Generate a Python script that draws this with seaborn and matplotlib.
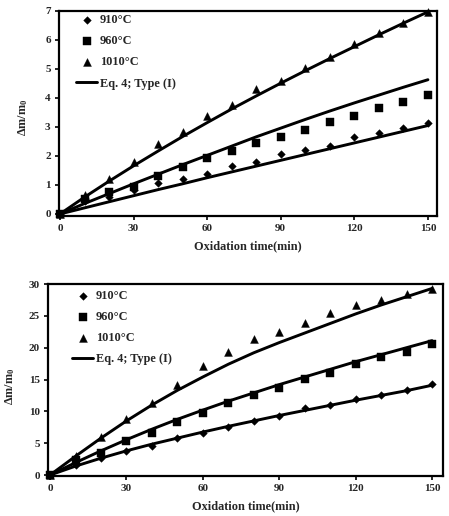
import matplotlib
matplotlib.use("Agg")
import matplotlib.pyplot as plt
import seaborn as sns
import pandas as pd

# ---------------- data ----------------
time_min = [0, 10, 20, 30, 40, 50, 60, 70, 80, 90, 100, 110, 120, 130, 140, 150]
series_labels = ["910°C", "960°C", "1010°C"]
fit_label = "Eq. 4; Type (I)"
x_ticks = [0, 30, 60, 90, 120, 150]
top_y_ticks = [0, 1, 2, 3, 4, 5, 6, 7]
bot_y_ticks = [0, 5, 10, 15, 20, 25, 30]

# top panel: measured
top_910 = [0, 0.45, 0.60, 0.84, 1.08, 1.22, 1.38, 1.64, 1.78, 2.06, 2.22, 2.36, 2.64, 2.78, 2.96, 3.13]
top_960 = [0, 0.50, 0.76, 0.94, 1.32, 1.62, 1.94, 2.17, 2.45, 2.65, 2.88, 3.18, 3.39, 3.65, 3.85, 4.10]
top_1010 = [0, 0.66, 1.19, 1.80, 2.42, 2.84, 3.38, 3.77, 4.31, 4.60, 5.05, 5.42, 5.85, 6.24, 6.60, 6.95]
# top panel: Eq. 4 fit
top_fit_910 = [0, 0.21, 0.42, 0.63, 0.84, 1.04, 1.25, 1.45, 1.65, 1.85, 2.05, 2.25, 2.45, 2.65, 2.85, 3.05]
top_fit_960 = [0, 0.36, 0.70, 1.04, 1.37, 1.70, 2.02, 2.34, 2.66, 2.96, 3.26, 3.55, 3.83, 4.10, 4.37, 4.63]
top_fit_1010 = [0, 0.58, 1.13, 1.66, 2.17, 2.67, 3.15, 3.62, 4.07, 4.51, 4.94, 5.36, 5.77, 6.18, 6.58, 6.97]

# bottom panel: measured
bot_910 = [0, 1.5, 2.6, 3.7, 4.6, 5.85, 6.65, 7.5, 8.45, 9.35, 10.45, 10.95, 11.95, 12.6, 13.3, 14.3]
bot_960 = [0, 2.4, 3.4, 5.3, 6.65, 8.4, 9.8, 11.35, 12.6, 13.6, 15.05, 16.1, 17.4, 18.5, 19.25, 20.6]
bot_1010 = [0, 3.0, 5.9, 8.8, 11.3, 14.1, 17.1, 19.4, 21.3, 22.5, 23.8, 25.4, 26.7, 27.5, 28.4, 29.2]
# bottom panel: Eq. 4 fit
bot_fit_910 = [0, 1.4, 2.65, 3.8, 4.85, 5.8, 6.75, 7.65, 8.5, 9.35, 10.15, 10.95, 11.75, 12.5, 13.25, 14.1]
bot_fit_960 = [0, 1.95, 3.8, 5.55, 7.2, 8.75, 10.2, 11.6, 12.9, 14.2, 15.4, 16.6, 17.8, 18.9, 20.0, 21.1]
bot_fit_1010 = [0, 2.95, 5.8, 8.5, 11.0, 13.3, 15.4, 17.4, 19.2, 20.8, 22.3, 23.8, 25.3, 26.7, 28.0, 29.3]

# ---------------- style ----------------
sns.set_style("white")
plt.rcParams["font.family"] = ["Liberation Serif", "DejaVu Serif"]
plt.rcParams["font.weight"] = "bold"
plt.rcParams["mathtext.fontset"] = "custom"
plt.rcParams["mathtext.rm"] = "Liberation Serif:bold"
plt.rcParams["mathtext.it"] = "Liberation Serif:bold"
plt.rcParams["mathtext.bf"] = "Liberation Serif:bold"

W, H = 449, 516
fig = plt.figure(figsize=(W / 100, H / 100), dpi=100)
fig.patch.set_facecolor("white")


def px_axes(l, t, r, b):
    return fig.add_axes([l / W, 1 - b / H, (r - l) / W, (b - t) / H])


markers = {"910°C": ("D", 15), "960°C": ("s", 30), "1010°C": ("^", 32)}


def draw_panel(ax, meas, fits, xlim, ylim, yticks, leg_anchor):
    meas_df = pd.DataFrame({"t": time_min * 3,
                            "v": meas[0] + meas[1] + meas[2],
                            "s": sum([[lab] * len(time_min) for lab in series_labels], [])})
    fit_df = pd.DataFrame({"t": time_min * 3,
                           "v": fits[0] + fits[1] + fits[2],
                           "s": sum([[lab] * len(time_min) for lab in series_labels], [])})
    for i, lab in enumerate(series_labels):
        sub = fit_df[fit_df["s"] == lab]
        sns.lineplot(data=sub, x="t", y="v", ax=ax, color="black", lw=2.1,
                     label=fit_label if i == 0 else None, zorder=2)
    for lab in series_labels:
        sub = meas_df[meas_df["s"] == lab]
        m, s = markers[lab]
        sns.scatterplot(data=sub, x="t", y="v", ax=ax, marker=m, s=s,
                        color="black", edgecolor="black", linewidth=0.3,
                        label=lab, zorder=3, clip_on=False)
    ax.set_xlim(*xlim)
    ax.set_ylim(*ylim)
    ax.set_xticks(x_ticks)
    ax.set_yticks(yticks)
    for sp in ax.spines.values():
        sp.set_visible(True)
        sp.set_color("black")
        sp.set_linewidth(1.6)
    ax.tick_params(axis="both", direction="out", length=3, width=1.2,
                   color="black", labelsize=8, pad=3,
                   bottom=True, left=True)
    for lbl in ax.get_xticklabels() + ax.get_yticklabels():
        lbl.set_fontweight("bold")
    ax.set_xlabel("Oxidation time(min)", fontsize=8.8, fontweight="bold", labelpad=5)
    ax.set_ylabel(r"$\Delta\mathrm{m/m_0}$", fontsize=8.8, labelpad=6)
    handles, labels = ax.get_legend_handles_labels()
    order = [labels.index(l) for l in series_labels + [fit_label]]
    ax.legend([handles[k] for k in order], [labels[k] for k in order],
              loc="upper left", bbox_to_anchor=leg_anchor, frameon=False,
              borderpad=0, borderaxespad=0, handlelength=1.75, handletextpad=0.2,
              labelspacing=0.75, prop={"family": "Liberation Serif", "weight": "bold", "size": 8.8})


ax1 = px_axes(59, 11, 437, 216)
draw_panel(ax1, [top_910, top_960, top_1010], [top_fit_910, top_fit_960, top_fit_1010],
           (-0.4, 153.7), (-0.07, 7), top_y_ticks, (0.045, 0.985))
ax1.yaxis.set_label_coords(-0.076, 0.48)

ax2 = px_axes(48, 284, 443, 476)
draw_panel(ax2, [bot_910, bot_960, bot_1010], [bot_fit_910, bot_fit_960, bot_fit_1010],
           (-0.8, 154.3), (-0.15, 30), bot_y_ticks, (0.061, 0.97))
ax2.yaxis.set_label_coords(-0.078, 0.47)

fig.savefig("out.png", dpi=100, facecolor="white")
